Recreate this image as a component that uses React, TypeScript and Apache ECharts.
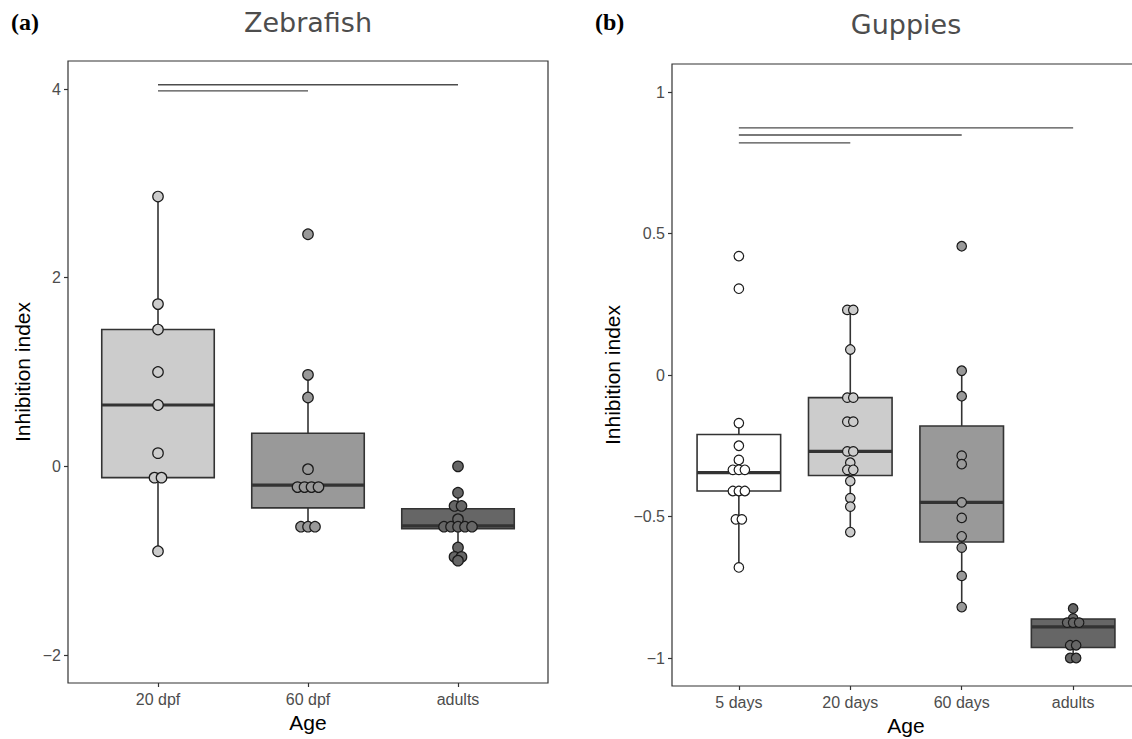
import React, { useEffect, useRef } from 'react';
import * as echarts from 'echarts';

// ---------- Zebrafish (a) ----------
const zfCategories = ['20 dpf', '60 dpf', 'adults'];
const zfFills = ['#cccccc', '#999999', '#666666'];
const zf20dpf = [2.86, 1.72, 1.45, 1.0, 0.65, 0.14, -0.12, -0.12, -0.9];
const zf60dpf = [2.46, 0.97, 0.73, -0.03, -0.22, -0.22, -0.22, -0.22, -0.64, -0.64, -0.64];
const zfAdults = [0.0, -0.28, -0.42, -0.42, -0.56, -0.64, -0.64, -0.64, -0.64, -0.64, -0.86, -0.96, -0.96, -1.0];
const zfMin = [-0.9, -0.64, -1.0];
const zfQ1 = [-0.12, -0.44, -0.66];
const zfMedian = [0.65, -0.2, -0.63];
const zfQ3 = [1.45, 0.35, -0.45];
const zfMax = [2.86, 0.97, -0.28];
const zfSigFrom = [1, 1];
const zfSigTo = [2, 3];
const zfSigY = [3.98, 4.045];

// ---------- Guppies (b) ----------
const gCategories = ['5 days', '20 days', '60 days', 'adults'];
const gFills = ['#ffffff', '#cccccc', '#999999', '#666666'];
const g5days = [0.42, 0.305, -0.17, -0.25, -0.3, -0.335, -0.335, -0.335, -0.41, -0.41, -0.41, -0.51, -0.51, -0.68];
const g20days = [0.23, 0.23, 0.09, -0.08, -0.08, -0.165, -0.165, -0.27, -0.27, -0.31, -0.335, -0.335, -0.375, -0.435, -0.465, -0.555];
const g60days = [0.455, 0.015, -0.075, -0.285, -0.315, -0.45, -0.505, -0.57, -0.61, -0.71, -0.82];
const gAdults = [-0.825, -0.86, -0.875, -0.875, -0.875, -0.955, -0.955, -1.0, -1.0];
const gMin = [-0.68, -0.555, -0.82, -1.0];
const gQ1 = [-0.41, -0.355, -0.59, -0.963];
const gMedian = [-0.345, -0.27, -0.45, -0.89];
const gQ3 = [-0.21, -0.08, -0.18, -0.862];
const gMax = [-0.17, 0.23, 0.015, -0.825];
const gSigFrom = [1, 1, 1];
const gSigTo = [2, 3, 4];
const gSigY = [0.82, 0.848, 0.873];

const SANS = "'Liberation Sans', Arial, sans-serif";
const DARK = '#333333';
const BOX_WIDTH = 0.75;

function dotData(values: number[], center: number, step: number) {
  const counts = new Map<number, number>();
  values.forEach((v) => counts.set(v, (counts.get(v) || 0) + 1));
  const seen = new Map<number, number>();
  return values.map((v) => {
    const n = counts.get(v) || 1;
    const k = seen.get(v) || 0;
    seen.set(v, k + 1);
    return [center + (k - (n - 1) / 2) * step, v];
  });
}

function boxSeries(axisIndex: number, mins: number[], q1: number[], med: number[], q3: number[], maxs: number[], fills: string[]) {
  const data = mins.map((m, i) => [i + 1, m, q1[i], med[i], q3[i], maxs[i]]);
  return {
    type: 'custom',
    xAxisIndex: axisIndex,
    yAxisIndex: axisIndex,
    data,
    clip: false,
    silent: true,
    z: 2,
    encode: { x: 0, y: [1, 2, 3, 4, 5] },
    renderItem: (params: any, api: any) => {
      const x = api.value(0);
      const half = api.size([BOX_WIDTH, 0])[0] / 2;
      const pMin = api.coord([x, api.value(1)]);
      const pQ1 = api.coord([x, api.value(2)]);
      const pMed = api.coord([x, api.value(3)]);
      const pQ3 = api.coord([x, api.value(4)]);
      const pMax = api.coord([x, api.value(5)]);
      const lineStyle = { stroke: DARK, lineWidth: 1.6 };
      return {
        type: 'group',
        children: [
          { type: 'line', shape: { x1: pQ3[0], y1: pQ3[1], x2: pMax[0], y2: pMax[1] }, style: lineStyle },
          { type: 'line', shape: { x1: pQ1[0], y1: pQ1[1], x2: pMin[0], y2: pMin[1] }, style: lineStyle },
          {
            type: 'rect',
            shape: { x: pQ3[0] - half, y: pQ3[1], width: 2 * half, height: pQ1[1] - pQ3[1] },
            style: { fill: fills[params.dataIndex], stroke: DARK, lineWidth: 1.6 },
          },
          {
            type: 'line',
            shape: { x1: pMed[0] - half, y1: pMed[1], x2: pMed[0] + half, y2: pMed[1] },
            style: { stroke: DARK, lineWidth: 3.2 },
          },
        ],
      };
    },
  };
}

function dotSeries(axisIndex: number, values: number[], center: number, step: number, fill: string, size: number) {
  return {
    type: 'scatter',
    xAxisIndex: axisIndex,
    yAxisIndex: axisIndex,
    data: dotData(values, center, step),
    symbol: 'circle',
    symbolSize: size,
    clip: false,
    silent: true,
    z: 3,
    itemStyle: { color: fill, borderColor: '#1a1a1a', borderWidth: 1.2, opacity: 1 },
  };
}

function sigSeries(axisIndex: number, from: number[], to: number[], ys: number[]) {
  return from.map((f, i) => ({
    type: 'line',
    xAxisIndex: axisIndex,
    yAxisIndex: axisIndex,
    data: [
      [f, ys[i]],
      [to[i], ys[i]],
    ],
    symbol: 'none',
    clip: false,
    silent: true,
    z: 2,
    lineStyle: { color: '#4d4d4d', width: 1.3 },
  }));
}

const minusFmt = (v: number) => String(v).replace('-', '\u2212');

function valueYAxis(gridIndex: number, min: number, max: number, interval: number, nameGap: number) {
  return {
    gridIndex,
    type: 'value',
    min,
    max,
    interval,
    axisLine: { show: false },
    splitLine: { show: false },
    axisTick: { show: true, length: 4, lineStyle: { color: DARK, width: 1.2 } },
    axisLabel: { fontSize: 16, color: '#4d4d4d', fontFamily: SANS, margin: 7, formatter: minusFmt },
    name: 'Inhibition index',
    nameLocation: 'middle',
    nameRotate: 90,
    nameGap,
    nameTextStyle: { fontSize: 21, color: '#000000', fontFamily: SANS },
  };
}

function catXAxis(gridIndex: number, cats: string[]) {
  return {
    gridIndex,
    type: 'category',
    data: cats,
    position: 'bottom',
    boundaryGap: true,
    axisLine: { show: false },
    splitLine: { show: false },
    axisTick: { show: true, alignWithLabel: true, length: 4, lineStyle: { color: DARK, width: 1.2 } },
    axisLabel: { fontSize: 16, color: '#4d4d4d', fontFamily: SANS, margin: 8 },
    name: 'Age',
    nameLocation: 'middle',
    nameGap: 28,
    nameTextStyle: { fontSize: 21, color: '#000000', fontFamily: SANS },
  };
}

const hiddenValue = (gridIndex: number, min?: number, max?: number) => ({ gridIndex, type: 'value', min, max, show: false });

export default function App() {
  const ref = useRef<HTMLDivElement>(null);
  useEffect(() => {
    if (!ref.current) return;
    const chart = echarts.init(ref.current, undefined, { renderer: 'svg' });
    const frame = { show: true, borderColor: DARK, borderWidth: 1.2, backgroundColor: 'transparent', outerBoundsMode: 'none' };
    const plain = { show: false, outerBoundsMode: 'none' };
    const zfStep = 7 / 150;
    const gStep = 6 / 111.4;
    const zfPoints = [zf20dpf, zf60dpf, zfAdults];
    const gPoints = [g5days, g20days, g60days, gAdults];
    const option: any = {
      animation: false,
      backgroundColor: '#ffffff',
      grid: [
        { ...frame, left: 68, top: 61, width: 480, height: 622 },
        { ...plain, left: 83, top: 61, width: 450, height: 622 },
        { ...plain, left: 68, top: 89, width: 480, height: 566 },
        { ...frame, left: 672, top: 64, width: 468, height: 622 },
        { ...plain, left: 683.14, top: 64, width: 445.72, height: 622 },
        { ...plain, left: 672, top: 92, width: 468, height: 566 },
      ],
      xAxis: [
        hiddenValue(0, 0, 1),
        catXAxis(1, zfCategories),
        hiddenValue(2, 0.4, 3.6),
        hiddenValue(3, 0, 1),
        catXAxis(4, gCategories),
        hiddenValue(5, 0.4, 4.6),
      ],
      yAxis: [
        hiddenValue(0, 0, 1),
        hiddenValue(1, 0, 1),
        valueYAxis(2, -2, 4, 2, 35),
        hiddenValue(3, 0, 1),
        hiddenValue(4, 0, 1),
        valueYAxis(5, -1, 1, 0.5, 49),
      ],
      graphic: [
        { type: 'text', x: 11, y: 22, style: { text: '(a)', font: "bold 24px 'Liberation Serif', 'Times New Roman', serif", fill: '#000', textVerticalAlign: 'middle' } },
        { type: 'text', x: 595, y: 22, style: { text: '(b)', font: "bold 24px 'Liberation Serif', 'Times New Roman', serif", fill: '#000', textVerticalAlign: 'middle' } },
        { type: 'text', x: 308, y: 22, style: { text: 'Zebrafish', font: "27px 'DejaVu Sans', sans-serif", fill: '#4d4d4d', textAlign: 'center', textVerticalAlign: 'middle' } },
        { type: 'text', x: 906, y: 24, style: { text: 'Guppies', font: "27px 'DejaVu Sans', sans-serif", fill: '#4d4d4d', textAlign: 'center', textVerticalAlign: 'middle' } },
      ],
      series: [
        boxSeries(2, zfMin, zfQ1, zfMedian, zfQ3, zfMax, zfFills),
        ...zfPoints.map((vals, i) => dotSeries(2, vals, i + 1, zfStep, zfFills[i], 10.5)),
        ...sigSeries(2, zfSigFrom, zfSigTo, zfSigY),
        boxSeries(5, gMin, gQ1, gMedian, gQ3, gMax, gFills),
        ...gPoints.map((vals, i) => dotSeries(5, vals, i + 1, gStep, gFills[i], 9.5)),
        ...sigSeries(5, gSigFrom, gSigTo, gSigY),
      ],
    };
    chart.setOption(option);
    return () => chart.dispose();
  }, []);
  return <div ref={ref} style={{ position: 'fixed', left: 0, top: 0, width: 1132, height: 739 }} />;
}
